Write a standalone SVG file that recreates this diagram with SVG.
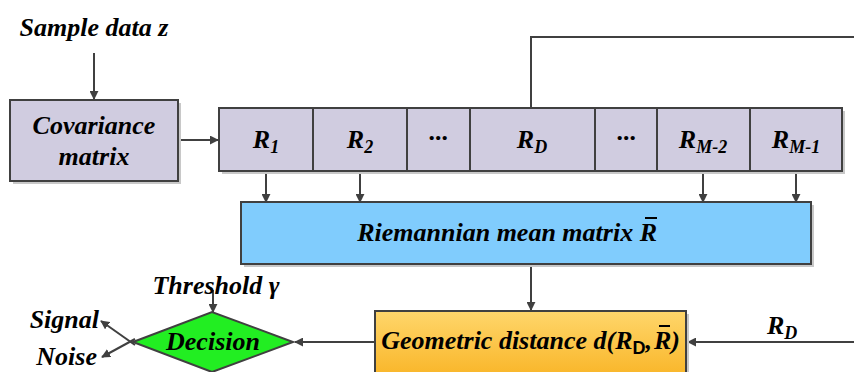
<svg xmlns="http://www.w3.org/2000/svg" width="854" height="372" viewBox="0 0 854 372">
<defs>
<style>
.t{font-family:"Liberation Serif","Times New Roman",serif;font-weight:bold;font-style:italic;font-size:26px;fill:#000}
.s{font-size:18px}
.box{stroke:#404040;stroke-width:2}
.sh{fill:#c8c8c8}
.ln{stroke:#404040;stroke-width:2;fill:none}
.bar{stroke:#000;stroke-width:2}
</style>
<marker id="ar" viewBox="0 0 10 10" refX="9" refY="5" markerWidth="9" markerHeight="9" markerUnits="userSpaceOnUse" orient="auto">
<path d="M0,0 L10,5 L0,10 z" fill="#404040"/>
</marker>
<linearGradient id="og" x1="0" y1="0" x2="0" y2="1">
<stop offset="0" stop-color="#FFD66B"/>
<stop offset="1" stop-color="#F9B62A"/>
</linearGradient>
</defs>
<rect width="854" height="372" fill="#fff"/>

<g id="connectors">
<line class="ln" x1="94" y1="53" x2="94" y2="99" marker-end="url(#ar)"/>
<line class="ln" x1="178" y1="140" x2="218" y2="140" marker-end="url(#ar)"/>
<polyline class="ln" points="531,108 531,37 856,37"/>
<line class="ln" x1="266" y1="171" x2="266" y2="202" marker-end="url(#ar)"/>
<line class="ln" x1="360" y1="171" x2="360" y2="202" marker-end="url(#ar)"/>
<line class="ln" x1="703" y1="171" x2="703" y2="202" marker-end="url(#ar)"/>
<line class="ln" x1="796" y1="171" x2="796" y2="202" marker-end="url(#ar)"/>
<line class="ln" x1="531" y1="264" x2="531" y2="310" marker-end="url(#ar)"/>
<line class="ln" x1="856" y1="342" x2="688" y2="342" marker-end="url(#ar)"/>
<line class="ln" x1="375" y1="342" x2="295" y2="342" marker-end="url(#ar)"/>
<line class="ln" x1="213" y1="290" x2="213" y2="312" marker-end="url(#ar)"/>
<line class="ln" x1="135" y1="345" x2="101" y2="321" marker-end="url(#ar)"/>
<line class="ln" x1="135" y1="339" x2="102" y2="357" marker-end="url(#ar)"/>
</g>

<g id="sample">
<text class="t" x="94" y="36" text-anchor="middle">Sample data z</text>
</g>

<g id="covariance">
<rect class="sh" x="13" y="103" width="168" height="81"/>
<rect class="box" x="10" y="100" width="168" height="81" fill="#D0CCE0"/>
<text class="t" x="94" y="134" text-anchor="middle">Covariance</text>
<text class="t" x="94" y="165" text-anchor="middle">matrix</text>
</g>

<g id="matrices">
<rect class="sh" x="222" y="111" width="623" height="63"/>
<rect class="box" x="219" y="108" width="623" height="63" fill="#D0CCE0"/>
<line class="box" x1="313" y1="108" x2="313" y2="171"/>
<line class="box" x1="407" y1="108" x2="407" y2="171"/>
<line class="box" x1="470" y1="108" x2="470" y2="171"/>
<line class="box" x1="595" y1="108" x2="595" y2="171"/>
<line class="box" x1="657" y1="108" x2="657" y2="171"/>
<line class="box" x1="750" y1="108" x2="750" y2="171"/>
<text class="t" x="266" y="148" text-anchor="middle">R<tspan class="s" dy="5">1</tspan></text>
<text class="t" x="360" y="148" text-anchor="middle">R<tspan class="s" dy="5">2</tspan></text>
<text class="t" x="438" y="146" text-anchor="middle">···</text>
<text class="t" x="532" y="148" text-anchor="middle">R<tspan class="s" dy="5">D</tspan></text>
<text class="t" x="626" y="146" text-anchor="middle">···</text>
<text class="t" x="703" y="148" text-anchor="middle">R<tspan class="s" dy="5">M-2</tspan></text>
<text class="t" x="796" y="148" text-anchor="middle">R<tspan class="s" dy="5">M-1</tspan></text>
</g>

<g id="riemannian">
<rect class="sh" x="244" y="205" width="570" height="62"/>
<rect class="box" x="241" y="202" width="570" height="62" fill="#80CCFD"/>
<text class="t" x="657" y="241" text-anchor="end">Riemannian mean matrix R</text>
<line class="bar" x1="645" y1="218" x2="657" y2="218"/>
</g>

<g id="geometric">
<rect class="sh" x="378" y="314" width="311" height="62"/>
<rect class="box" x="375" y="311" width="311" height="64" fill="url(#og)"/>
<text class="t" x="652" y="349" text-anchor="end">Geometric distance d(R<tspan class="s" dy="5" font-style="normal" font-family="Liberation Sans, Arial, sans-serif">D</tspan><tspan dy="-5">,</tspan></text>
<text class="t" x="654" y="349">R)</text>
<line class="bar" x1="659" y1="326" x2="670" y2="326"/>
</g>

<g id="decision">
<polygon class="box" points="133,342 212,312 293,342 212,372" fill="#22EE22"/>
<text class="t" x="213" y="350" text-anchor="middle">Decision</text>
</g>

<g id="labels">
<text class="t" x="216" y="294" text-anchor="middle">Threshold γ</text>
<text class="t" x="99" y="328" text-anchor="end">Signal</text>
<text class="t" x="97" y="365" text-anchor="end">Noise</text>
<text class="t" x="767" y="334">R<tspan class="s" dy="5">D</tspan></text>
</g>
</svg>
